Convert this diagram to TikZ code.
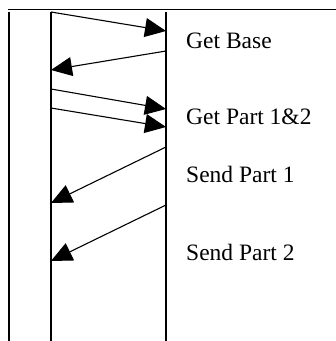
\documentclass[tikz,border=0pt]{standalone}
\usepackage{fontspec}
\setmainfont{Liberation Serif}
\usetikzlibrary{arrows.meta}
\begin{document}
\begin{tikzpicture}[x=1pt,y=-1pt,
  line/.style={line width=1.1pt},
  msg/.style={line width=1.1pt,-{Triangle[length=21pt,width=19pt]}},
  lbl/.style={anchor=base west,inner sep=0pt,font=\fontsize{23.5pt}{28pt}\selectfont}]
\useasboundingbox (0,0) rectangle (336,341);
% frame lines
\coordinate (ftl) at (8,9.5);
\coordinate (ftr) at (336,9.5);
\coordinate (fl1) at (9,12);
\coordinate (fl2) at (9,341);
\draw[line] (ftl) -- (ftr);
\draw[line] (fl1) -- (fl2);
% lifelines
\coordinate (Ltop) at (51,12);
\coordinate (Lbot) at (51,341);
\coordinate (Rtop) at (166,12);
\coordinate (Rbot) at (166,341);
\draw[line] (Ltop) -- (Lbot);
\draw[line] (Rtop) -- (Rbot);
% message endpoints
\coordinate (a1) at (51,12);   \coordinate (b1) at (166,31);
\coordinate (a2) at (166,51);  \coordinate (b2) at (51,70);
\coordinate (a3) at (51,89);   \coordinate (b3) at (166,109);
\coordinate (a4) at (51,108);  \coordinate (b4) at (166,127);
\coordinate (a5) at (166,147); \coordinate (b5) at (51,203);
\coordinate (a6) at (166,205); \coordinate (b6) at (51,261);
\draw[msg] (a1) -- (b1);
\draw[msg] (a2) -- (b2);
\draw[msg] (a3) -- (b3);
\draw[msg] (a4) -- (b4);
\draw[msg] (a5) -- (b5);
\draw[msg] (a6) -- (b6);
% labels
\node[lbl] (t1) at (186,48.3) {Get Base};
\node[lbl] (t2) at (186,124) {Get Part 1\&2};
\node[lbl] (t3) at (186,182.7) {Send Part 1};
\node[lbl] (t4) at (186,260.7) {Send Part 2};
\end{tikzpicture}
\end{document}
